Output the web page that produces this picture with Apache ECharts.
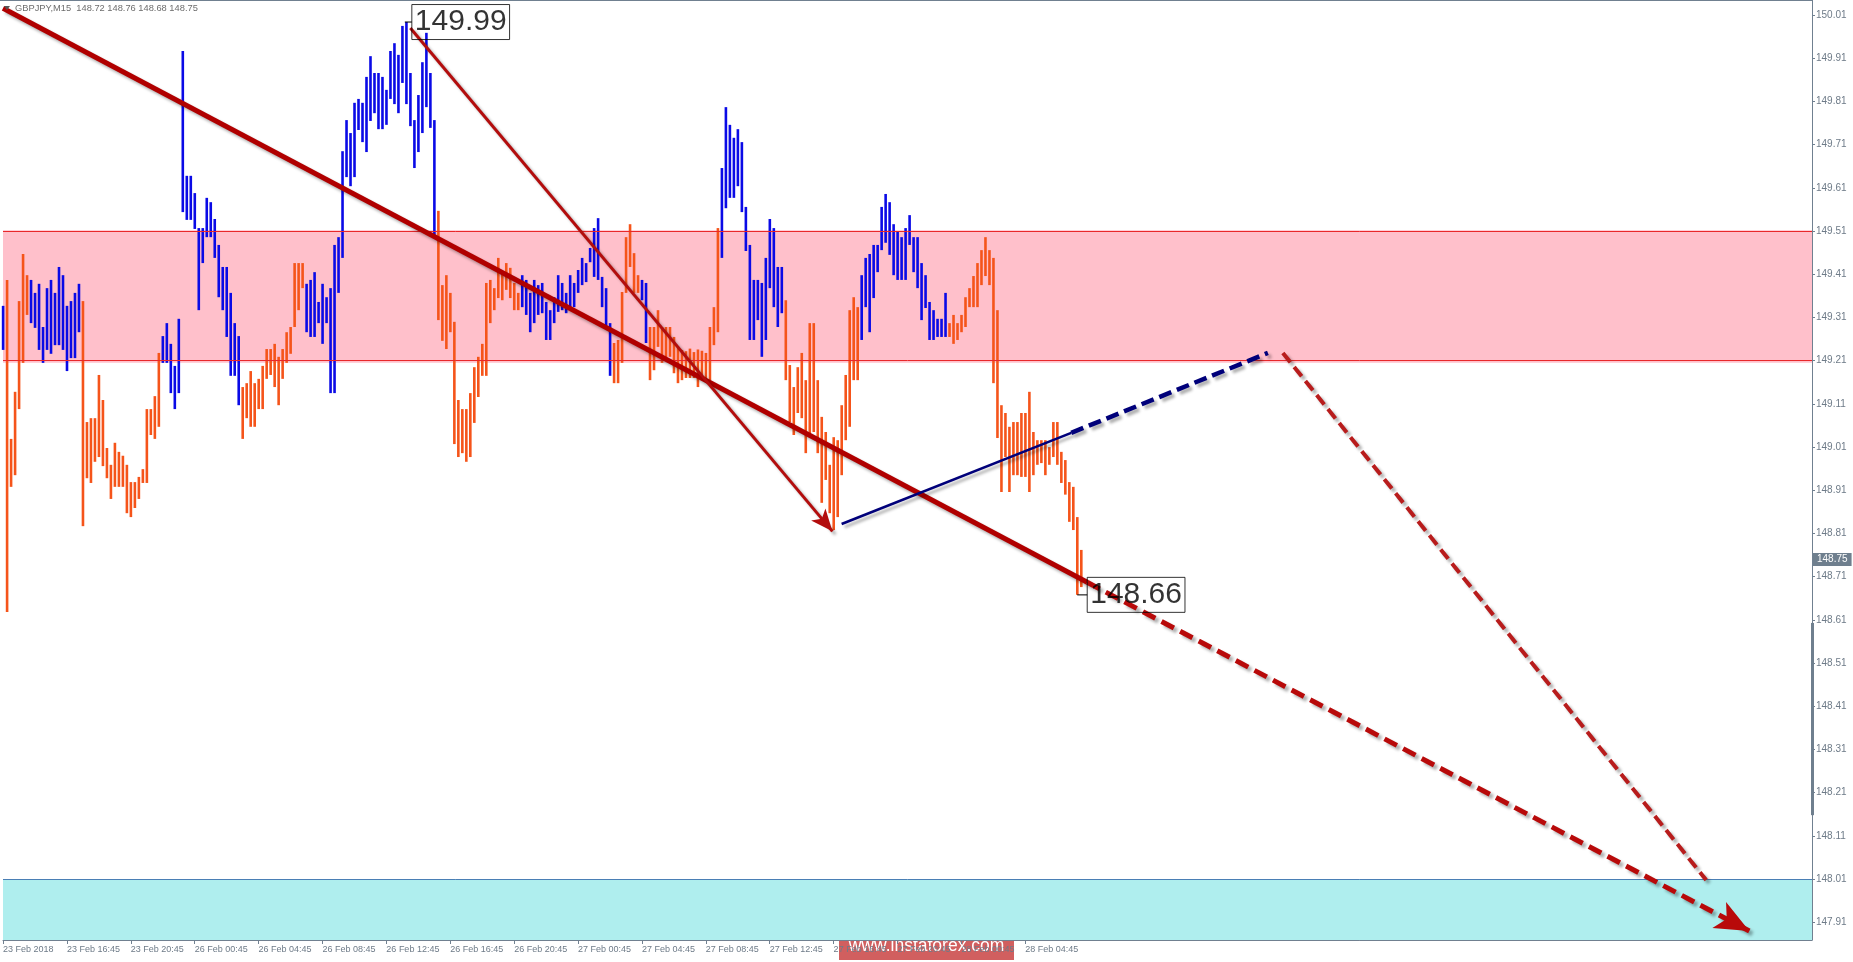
<!DOCTYPE html>
<html><head><meta charset="utf-8">
<script src="https://cdn.jsdelivr.net/npm/echarts@6/dist/echarts.min.js"></script>
<style>html,body{margin:0;padding:0;background:#fff;overflow:hidden}#c{width:1853px;height:962px}</style>
</head><body><div id="c"></div><script>
// ---- data (GBPJPY M15, bar index 0 = 23 Feb 12:45) ----
const highs = [149.337,149.397,149.029,149.138,149.348,149.457,149.408,149.397,149.367,149.388,149.288,149.378,149.397,149.367,149.427,149.408,149.337,149.348,149.367,149.388,
149.348,149.068,149.077,149.077,149.177,149.119,149.008,148.969,149.02,148.999,148.99,148.969,148.929,148.929,148.941,148.959,149.098,149.098,149.128,149.228,
149.267,149.297,149.249,149.198,149.307,149.927,149.638,149.638,149.598,149.517,149.517,149.587,149.577,149.538,149.478,149.427,149.427,149.367,149.297,149.267,
149.149,149.158,149.186,149.158,149.168,149.198,149.237,149.237,149.249,149.219,149.237,149.276,149.288,149.436,149.436,149.436,
149.388,149.397,149.415,149.346,149.388,149.357,149.378,149.478,149.496,149.695,149.767,149.737,149.807,149.816,149.807,149.867,149.915,149.876,149.876,149.867,149.837,149.927,149.945,149.918,149.985,149.994,149.876,149.767,149.825,149.901,149.969,149.876,149.767,
149.557,149.385,149.408,149.367,149.3,149.119,149.098,149.098,149.135,149.195,149.219,149.249,149.39,149.397,149.378,149.448,149.415,149.436,149.425,149.39,149.367,
149.408,149.397,149.367,149.397,149.385,149.39,149.346,149.327,149.357,149.408,149.39,149.367,149.408,149.39,149.42,149.448,149.436,149.471,149.517,149.54,149.404,149.378,149.297,
149.251,149.258,149.369,149.496,149.526,149.459,149.408,149.397,149.39,149.288,149.288,149.327,149.288,149.288,149.288,149.265,149.242,149.235,149.232,149.238,149.23,149.236,149.233,149.228,149.288,149.334,149.517,
149.656,149.797,149.756,149.726,149.746,149.716,149.566,149.478,149.397,149.397,149.39,149.448,149.538,149.517,149.427,149.427,
149.35,149.2,149.149,149.195,149.228,149.165,149.297,149.297,149.165,149.08,149.045,148.969,149.033,149.026,149.107,149.177,149.327,149.357,149.334,
149.408,149.448,149.457,149.478,149.478,149.566,149.596,149.577,149.526,149.508,149.496,149.517,149.547,149.496,149.496,149.436,149.408,149.346,149.327,149.307,149.307,149.367,
149.297,149.316,149.297,149.316,149.357,149.378,149.406,149.436,149.466,149.496,149.466,149.448,149.327,149.107,149.089,149.057,149.068,149.068,149.089,149.089,149.138,149.045,149.026,149.026,149.026,149.01,149.068,149.068,148.999,148.98,148.929,148.918,148.848,148.772];
const lows = [149.235,148.628,148.918,148.945,149.098,149.205,149.316,149.297,149.286,149.235,149.205,149.235,149.226,149.246,149.246,149.235,149.186,149.216,149.216,149.276,
148.827,148.938,148.927,148.976,148.987,148.966,148.938,148.89,148.918,148.918,148.918,148.857,148.848,148.869,148.89,148.927,148.927,149.038,149.029,149.057,
149.205,149.205,149.135,149.098,149.135,149.554,149.536,149.536,149.515,149.327,149.436,149.496,149.496,149.448,149.357,149.327,149.265,149.175,149.175,149.107,
149.029,149.077,149.057,149.057,149.098,149.098,149.168,149.177,149.149,149.107,149.168,149.205,149.226,149.288,149.327,149.378,
149.276,149.265,149.265,149.297,149.249,149.297,149.135,149.135,149.367,149.448,149.635,149.614,149.635,149.744,149.716,149.693,149.765,149.783,149.746,149.746,149.756,149.816,149.804,149.783,149.853,149.804,149.753,149.656,149.693,149.737,149.797,149.749,149.5,
149.304,149.256,149.237,149.276,149.017,148.987,148.996,148.976,148.987,149.066,149.126,149.175,149.175,149.297,149.327,149.355,149.35,149.374,149.355,149.327,149.327,
149.334,149.316,149.276,149.297,149.316,149.32,149.258,149.258,149.297,149.323,149.327,149.32,149.334,149.334,149.367,149.385,149.392,149.438,149.404,149.397,149.334,149.288,149.175,
149.158,149.158,149.205,149.367,149.427,149.367,149.367,149.35,149.251,149.165,149.188,149.242,149.205,149.212,149.219,149.181,149.158,149.165,149.17,149.17,149.17,149.149,149.17,149.165,149.165,149.246,149.276,
149.448,149.563,149.587,149.587,149.614,149.554,149.464,149.258,149.258,149.304,149.219,149.258,149.378,149.334,149.288,149.32,
149.165,149.068,149.038,149.089,149.077,148.996,149.033,149.045,148.996,148.881,148.934,148.857,148.818,148.848,148.945,149.026,149.057,149.165,149.165,
149.258,149.334,149.276,149.355,149.415,149.466,149.483,149.455,149.408,149.397,149.397,149.397,149.478,149.415,149.378,149.304,149.332,149.258,149.258,149.265,149.265,149.265,
149.265,149.249,149.258,149.276,149.288,149.334,149.334,149.334,149.385,149.406,149.385,149.158,149.031,148.906,148.987,148.906,148.945,148.945,148.941,148.941,148.906,148.945,148.969,148.973,148.945,148.969,148.987,148.969,148.927,148.9,148.837,148.818,148.668,148.686];
// b = blue (up-wave bar), o = orange (down-wave bar)
const barKinds = ('b' + 'oooooo' + 'bbbbbbbbbbbbb' + 'oooooooooooooooooooo' + 'bbbbbbbbbbbbbbbbbbbb' +
  'oooooooooooooooo' + 'bbbbbbbbbbbbbbbbbbbbbbbbbbbbbbbbb' + 'ooooooooooooooooooooo' +
  'bbbbbbbbbbbbbbbbbbbbbbb' + 'ooooooo' + 'bb' + 'oooooooooooooooooo' + 'bbbbbbbbbbbbbbbb' +
  'ooooooooooooooooooo' + 'bbbbbbbbbbbbbbbbbbbbbb' + 'oooooooooooooooooooooooooooooooooo').split('');

const timeTickBars = [0,16,32,48,64,80,96,112,128,144,160,176,192,208,224,240,256];
const timeTickLabels = ['23 Feb 2018','23 Feb 16:45','23 Feb 20:45','26 Feb 00:45','26 Feb 04:45','26 Feb 08:45',
  '26 Feb 12:45','26 Feb 16:45','26 Feb 20:45','27 Feb 00:45','27 Feb 04:45','27 Feb 08:45','27 Feb 12:45',
  '27 Feb 16:45','27 Feb 20:45','28 Feb 00:45','28 Feb 04:45'];
const priceTicks = [147.91,148.01,148.11,148.21,148.31,148.41,148.51,148.61,148.71,148.81,148.91,149.01,
  149.11,149.21,149.31,149.41,149.51,149.61,149.71,149.81,149.91,150.01];

const headerText = 'GBPJPY,M15  148.72 148.76 148.68 148.75';
const lastPrice = 148.75;
const peakPoint = [101, 149.994], peakText = '149.99';
const troughPoint = [269, 148.668], troughText = '148.66';
const resistanceZone = [149.512, 149.205];
const targetZone = [148.01, 147.869];
// wave markup (bar index, price)
const mainTrend = [[0, 150.026], [271.5, 148.697]];
const mainTrendProjection = [[271.5, 148.697], [437.3, 147.89]];
const impulseArrow = [[102, 149.98], [207.7, 148.815]];
const navyTrend = [[210, 148.832], [267.5, 149.043]];
const navyProjection = [[267.5, 149.043], [316.75, 149.228]];
const altProjection = [[320.5, 149.228], [426.5, 148.008]];
const scrollRange = [148.603, 148.158];

const Y_MIN = 147.869, Y_MAX = 150.045, X_MAX = 453;
const ORANGE = '#f5541a', BLUE = '#0a0ae6', DARKRED = '#b00000', NAVY = '#00007a', AXIS = '#708090', TXT = '#6e7b88';
const FONT = '"Liberation Sans", Arial, sans-serif';
const shadow = {shadowColor:'rgba(0,0,0,0.32)', shadowBlur:3, shadowOffsetX:3, shadowOffsetY:3};

function lineSeries(seg, style, arrow, arrowSize) {
  return {type:'line', data:[], z:5, clip:false, silent:true,
    markLine:{silent:true, animation:false, symbol:['none', arrow ? 'arrow' : 'none'], symbolSize: arrowSize || 10,
      label:{show:false}, emphasis:{disabled:true},
      lineStyle:Object.assign({}, shadow, style),
      data:[[{coord:seg[0]}, {coord:seg[1]}]]}};
}
function levelLine(value, color) {
  return {type:'line', data:[], z:1, silent:true,
    markLine:{silent:true, symbol:['none','none'], label:{show:false}, emphasis:{disabled:true},
      lineStyle:{color:color, width:1, type:'solid'}, data:[{yAxis:value}]}};
}

const chart = echarts.init(document.getElementById('c'), null, {renderer:'canvas'});
const option = {
  animation:false,
  backgroundColor:'#ffffff',
  grid:{left:0, right:41, top:0, bottom:22},
  xAxis:{type:'value', min:0, max:X_MAX, splitLine:{show:false},
    axisLine:{show:true, onZero:false, lineStyle:{color:AXIS, width:1}},
    axisTick:{show:true, customValues:timeTickBars, length:4, lineStyle:{color:AXIS}},
    axisLabel:{customValues:timeTickBars, align:'left', margin:5, color:TXT, fontSize:9, fontFamily:FONT,
      formatter:(v)=>{const k = timeTickBars.indexOf(Math.round(v)); return k >= 0 ? timeTickLabels[k] : '';}}},
  yAxis:{type:'value', position:'right', min:Y_MIN, max:Y_MAX, splitLine:{show:false},
    axisLine:{show:true, onZero:false, lineStyle:{color:AXIS, width:1}},
    axisTick:{show:true, customValues:priceTicks, length:3, lineStyle:{color:AXIS}},
    axisLabel:{customValues:priceTicks, margin:4, color:TXT, fontSize:10, fontFamily:FONT,
      formatter:(v)=>v.toFixed(2)}},
  graphic:[
    {type:'line', shape:{x1:0, y1:0.5, x2:1812, y2:0.5}, style:{stroke:AXIS, lineWidth:1}, z:10},
    {type:'polygon', shape:{points:[[4,6],[10,6],[7,10]]}, style:{fill:'#555'}, z:10},
    {type:'text', x:15, y:8, style:{text:headerText, fill:'#6d6d6d', font:'9.3px ' + FONT, verticalAlign:'middle'}, z:10},
    {type:'group', x:839, y:931, z:20, children:[
      {type:'rect', shape:{x:0, y:0, width:175, height:29}, style:{fill:'#d15f5f'}},
      {type:'text', x:87.5, y:15, style:{text:'www.instaforex.com', fill:'#ffffff', font:'17.5px ' + FONT, align:'center', verticalAlign:'middle'}}
    ]}
  ],
  series:[
    {type:'line', data:[], z:0, silent:true,
      markArea:{silent:true, data:[
        [{xAxis:0, yAxis:resistanceZone[0], itemStyle:{color:'#ffc0cb', borderWidth:0}}, {xAxis:X_MAX, yAxis:resistanceZone[1]}],
        [{xAxis:0, yAxis:targetZone[0], itemStyle:{color:'#afeeee', borderWidth:0}}, {xAxis:X_MAX, yAxis:targetZone[1]}]
      ]}},
    levelLine(resistanceZone[0], '#e8282a'),
    levelLine(resistanceZone[1], '#e8282a'),
    levelLine(targetZone[0], '#4a7fb5'),
    {type:'custom', z:3, silent:true,
      data: highs.map((h, i) => [i, h, lows[i], barKinds[i] === 'b' ? 1 : 0]),
      encode:{x:0, y:[1,2]},
      renderItem:(params, api) => {
        const x = api.value(0);
        const top = api.coord([x, api.value(1)]);
        const bot = api.coord([x, api.value(2)]);
        return {type:'rect', shape:{x:top[0] - 1.2, y:top[1], width:2.6, height:Math.max(1, bot[1] - top[1])},
          style:{fill: api.value(3) ? BLUE : ORANGE}};
      }},
    lineSeries(mainTrend, {color:DARKRED, width:5, type:'solid'}, false),
    lineSeries(mainTrendProjection, {color:'#b80a0a', width:5, type:[14,7]}, true, [22, 34]),
    lineSeries(impulseArrow, {color:'#b30d0d', width:3, type:'solid'}, true, [14, 22]),
    lineSeries(navyTrend, {color:NAVY, width:2.6, type:'solid'}, false),
    lineSeries(navyProjection, {color:NAVY, width:4.5, type:[13,6]}, false),
    lineSeries(altProjection, {color:'#b81c1c', width:4, type:[12,6]}, false),
    {type:'line', data:[], z:6, clip:false, silent:true,
      markLine:{silent:true, symbol:['none','none'], label:{show:false},
        lineStyle:{color:'#6f7f8e', width:3, type:'solid'},
        data:[[{coord:[X_MAX, scrollRange[0]]}, {coord:[X_MAX, scrollRange[1]]}]]}},
    {type:'line', data:[], z:7, clip:false, silent:true,
      markLine:{silent:true, symbol:['none','none'], lineStyle:{color:'rgba(0,0,0,0)', width:0},
        label:{show:true, position:'end', distance:1, formatter:lastPrice.toFixed(2), backgroundColor:'#6f7f8e',
          color:'#ffffff', fontSize:10, fontFamily:FONT, padding:[2,4,1,4]},
        data:[{yAxis:lastPrice}]}},
    {type:'scatter', z:8, silent:true, data:[peakPoint], symbol:'rect', symbolSize:[7,1.3], symbolOffset:[2,0],
      itemStyle:{color:'#000'},
      label:{show:true, position:'right', distance:0, formatter:peakText, color:'#000', fontSize:30, fontFamily:FONT,
        borderColor:'#000', borderWidth:1, padding:[4,3,1,3], lineHeight:30}},
    {type:'scatter', z:8, silent:true, data:[troughPoint], symbol:'rect', symbolSize:[10,1.3], symbolOffset:[5,0],
      itemStyle:{color:'#000'},
      label:{show:true, position:'right', distance:0, formatter:troughText, color:'#000', fontSize:30, fontFamily:FONT,
        borderColor:'#000', borderWidth:1, padding:[4,3,1,3], lineHeight:30}}
  ]
};
chart.setOption(option);
</script></body></html>
